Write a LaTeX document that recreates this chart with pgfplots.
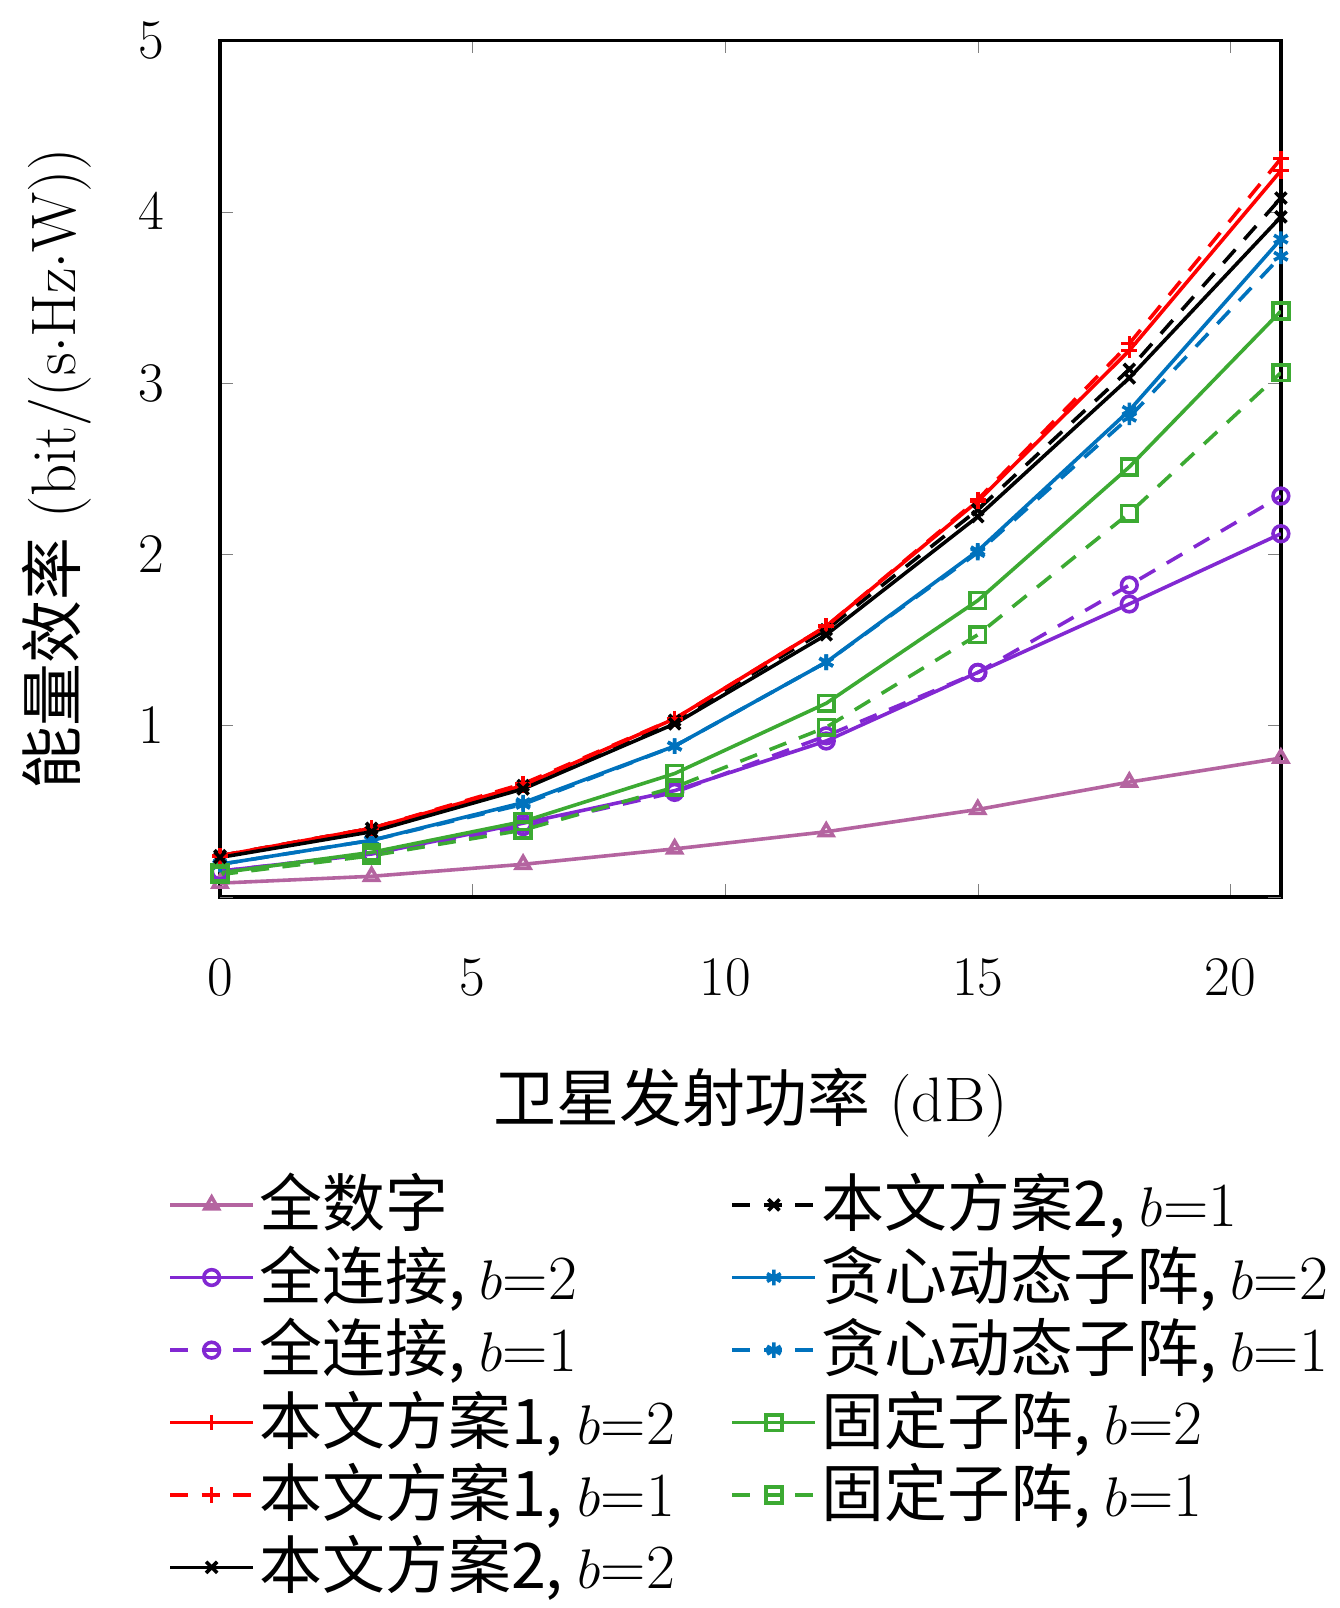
\documentclass[border=0pt]{standalone}
\usepackage{pgfplots}
\pgfplotsset{compat=1.18}
\usepackage{fontspec}
\newfontfamily\cjk{Noto Sans CJK SC}
\definecolor{cA}{RGB}{180,100,160}
\definecolor{cB}{RGB}{130,40,210}
\definecolor{cC}{RGB}{0,114,189}
\definecolor{cD}{RGB}{60,170,50}
\begin{document}
\fontsize{30}{36}\selectfont
\begin{tikzpicture}
\begin{axis}[scale only axis, width=16.6cm, height=13.4cm,
xmin=0,xmax=21,ymin=0,ymax=5,
xtick={0,5,10,15,20}, ytick={1,2,3,4,5},
extra y ticks={0}, extra y tick labels={},
tick align=inside, major tick length=0.2cm,
line width=1.6pt,
tick label style={font=\fontsize{30}{36}\selectfont},
xticklabel style={yshift=-0.6cm},
yticklabel style={xshift=-0.5cm},
xlabel={\cjk\fontsize{28}{34}\selectfont 卫星发射功率\rm\ (dB)},
ylabel={\cjk\fontsize{28}{34}\selectfont 能量效率\rm\ (bit/(s$\cdot$Hz$\cdot$W))},
label style={font=\fontsize{30}{36}\selectfont},
xlabel style={yshift=-0.4cm},
legend columns=2,
legend style={at={(0.5,-0.31)},anchor=north,draw=none,font=\fontsize{28}{34}\selectfont,
 /tikz/every even column/.append style={column sep=0.8cm}, row sep=0pt},
legend cell align=left,
legend image code/.code={\draw[mark repeat=2,mark phase=2] plot coordinates {(0cm,0cm)(0.65cm,0cm)(1.3cm,0cm)};},
every axis plot/.append style={line width=1.6pt, mark size=3.5pt, mark options={solid}},
dashed/.style={dash pattern=on 8pt off 6pt},
]
\addplot[cA,mark=triangle] coordinates {(0,0.08)(3,0.12)(6,0.19)(9,0.28)(12,0.38)(15,0.51)(18,0.67)(21,0.81)};
\addlegendentry{\cjk 全数字}
\addplot[black,dashed,mark=x] coordinates {(0,0.24)(3,0.40)(6,0.65)(9,1.03)(12,1.56)(15,2.26)(18,3.08)(21,4.08)};
\addlegendentry{\cjk 本文方案2, \rm$b$=1}
\addplot[cB,mark=o] coordinates {(0,0.15)(3,0.25)(6,0.43)(9,0.62)(12,0.91)(15,1.31)(18,1.71)(21,2.12)};
\addlegendentry{\cjk 全连接, \rm$b$=2}
\addplot[cC,mark=asterisk] coordinates {(0,0.19)(3,0.33)(6,0.55)(9,0.88)(12,1.37)(15,2.02)(18,2.84)(21,3.84)};
\addlegendentry{\cjk 贪心动态子阵, \rm$b$=2}
\addplot[cB,dashed,mark=o] coordinates {(0,0.15)(3,0.25)(6,0.41)(9,0.61)(12,0.94)(15,1.31)(18,1.82)(21,2.34)};
\addlegendentry{\cjk 全连接, \rm$b$=1}
\addplot[cC,dashed,mark=asterisk] coordinates {(0,0.19)(3,0.33)(6,0.54)(9,0.88)(12,1.37)(15,2.01)(18,2.80)(21,3.74)};
\addlegendentry{\cjk 贪心动态子阵, \rm$b$=1}
\addplot[red,mark=+] coordinates {(0,0.24)(3,0.40)(6,0.65)(9,1.04)(12,1.58)(15,2.31)(18,3.19)(21,4.24)};
\addlegendentry{\cjk 本文方案1, \rm$b$=2}
\addplot[cD,mark=square] coordinates {(0,0.14)(3,0.26)(6,0.44)(9,0.72)(12,1.13)(15,1.73)(18,2.51)(21,3.42)};
\addlegendentry{\cjk 固定子阵, \rm$b$=2}
\addplot[red,dashed,mark=+] coordinates {(0,0.24)(3,0.40)(6,0.66)(9,1.04)(12,1.58)(15,2.32)(18,3.23)(21,4.31)};
\addlegendentry{\cjk 本文方案1, \rm$b$=1}
\addplot[cD,dashed,mark=square] coordinates {(0,0.13)(3,0.24)(6,0.39)(9,0.64)(12,0.99)(15,1.53)(18,2.24)(21,3.06)};
\addlegendentry{\cjk 固定子阵, \rm$b$=1}
\addplot[black,mark=x] coordinates {(0,0.23)(3,0.38)(6,0.63)(9,1.01)(12,1.53)(15,2.22)(18,3.03)(21,3.97)};
\addlegendentry{\cjk 本文方案2, \rm$b$=2}
\end{axis}
\end{tikzpicture}
\end{document}
